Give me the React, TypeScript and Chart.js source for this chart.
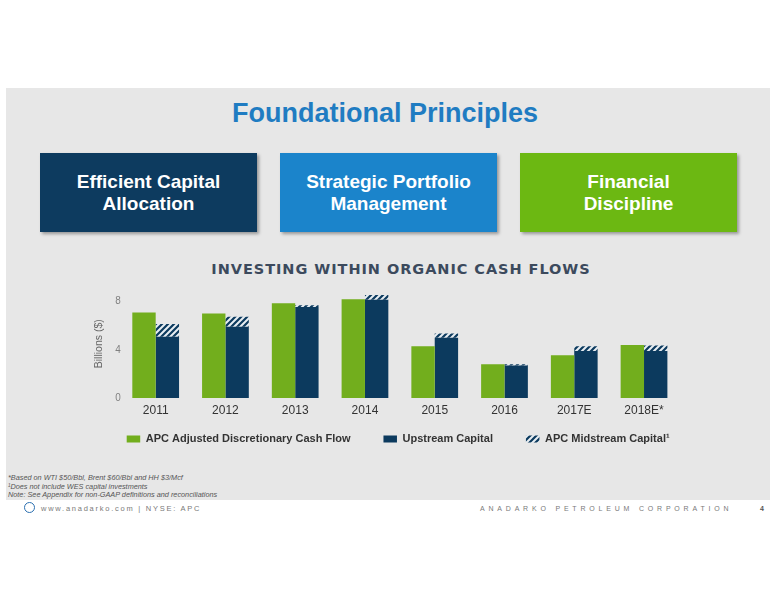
import React, { useEffect, useRef } from "react";
import { Chart, registerables } from "chart.js";

Chart.register(...registerables);

const categories = ["2011", "2012", "2013", "2014", "2015", "2016", "2017E", "2018E*"];
const cashFlow = [7.1, 7.0, 7.85, 8.2, 4.3, 2.8, 3.55, 4.4];
const upstream = [5.08, 5.9, 7.55, 8.15, 5.0, 2.7, 3.9, 3.9];
const midstream = [1.05, 0.85, 0.15, 0.4, 0.35, 0.1, 0.4, 0.45];
const yTicks = [0, 4, 8];
const seriesNames = [
  "APC Adjusted Discretionary Cash Flow",
  "Upstream Capital",
  "APC Midstream Capital¹",
];

const GREEN = "#72ae1d";
const NAVY = "#0c3a5e";
const FONT = "Arial, 'Liberation Sans', sans-serif";

const CANVAS_LEFT = 80;
const CANVAS_TOP = 280;

function makeHatch(): CanvasPattern | string {
  const c = document.createElement("canvas");
  c.width = 6;
  c.height = 6;
  const x = c.getContext("2d");
  if (!x) return NAVY;
  x.fillStyle = "#e8eef3";
  x.fillRect(0, 0, 6, 6);
  x.strokeStyle = NAVY;
  x.lineWidth = 2.2;
  x.beginPath();
  x.moveTo(-1, 7);
  x.lineTo(7, -1);
  x.moveTo(-4, 4);
  x.lineTo(4, -4);
  x.moveTo(2, 10);
  x.lineTo(10, 2);
  x.stroke();
  const p = x.createPattern(c, "repeat");
  return p || NAVY;
}

// legend drawn on the chart canvas from the dataset labels and fills
const legendPlugin = {
  id: "slideLegend",
  afterDraw(chart: any) {
    const ctx = chart.ctx as CanvasRenderingContext2D;
    ctx.save();
    ctx.font = `bold 11px ${FONT}`;
    ctx.textBaseline = "middle";
    ctx.textAlign = "left";
    let x = 126.7 - CANVAS_LEFT;
    const y = 439 - CANVAS_TOP;
    chart.data.datasets.forEach((ds: any) => {
      ctx.fillStyle = ds.backgroundColor;
      ctx.fillRect(x, y - 3.5, 13.5, 7);
      ctx.fillStyle = "#333333";
      ctx.fillText(ds.label, x + 19, y);
      x += 19 + ctx.measureText(ds.label).width + 33;
    });
    ctx.restore();
  },
};

function BarChart() {
  const ref = useRef<HTMLCanvasElement | null>(null);
  useEffect(() => {
    if (!ref.current) return;
    const hatch = makeHatch();
    const chart = new Chart(ref.current, {
      type: "bar",
      data: {
        labels: categories,
        datasets: [
          { label: seriesNames[0], data: cashFlow, backgroundColor: GREEN, stack: "a", borderWidth: 0 },
          { label: seriesNames[1], data: upstream, backgroundColor: NAVY, stack: "b", borderWidth: 0 },
          { label: seriesNames[2], data: midstream, backgroundColor: hatch as any, stack: "b", borderWidth: 0 },
        ],
      },
      plugins: [legendPlugin],
      options: {
        responsive: false,
        animation: false,
        devicePixelRatio: 1,
        layout: { padding: { top: 9.5, right: 21.1, bottom: 32, left: 0 } },
        datasets: { bar: { categoryPercentage: 0.67, barPercentage: 1 } },
        plugins: {
          tooltip: { enabled: false },
          legend: { display: false },
        },
        scales: {
          x: {
            stacked: true,
            grid: { display: false, drawTicks: false },
            border: { display: false },
            ticks: {
              padding: 5,
              color: "#333333",
              font: { family: FONT, size: 12 },
            },
            afterFit: (s: any) => {
              s.height = 20;
            },
          },
          y: {
            stacked: true,
            min: 0,
            max: 9,
            grid: { display: false, drawTicks: false },
            border: { display: false },
            afterBuildTicks: (s: any) => {
              s.ticks = yTicks.map((v) => ({ value: v }));
            },
            ticks: {
              padding: 0,
              color: "#808080",
              font: { family: FONT, size: 10 },
            },
            title: {
              display: true,
              text: "Billions ($)",
              color: "#666666",
              padding: { top: 13, bottom: 0 },
              font: { family: FONT, size: 10.5 },
            },
            afterFit: (s: any) => {
              s.width = 40.8;
            },
          },
        },
      },
    });
    return () => chart.destroy();
  }, []);
  return (
    <canvas
      ref={ref}
      width={620}
      height={170}
      style={{ position: "absolute", left: CANVAS_LEFT, top: CANVAS_TOP, width: 620, height: 170 }}
    />
  );
}

const boxBase: React.CSSProperties = {
  position: "absolute",
  top: 153,
  width: 217,
  height: 79,
  display: "flex",
  alignItems: "center",
  justifyContent: "center",
  textAlign: "center",
  color: "#ffffff",
  fontFamily: FONT,
  fontWeight: "bold",
  fontSize: 19,
  lineHeight: "22px",
  boxShadow: "2px 2px 3px rgba(0,0,0,0.35)",
};

export default function App() {
  return (
    <div
      style={{
        position: "absolute",
        left: 0,
        top: 0,
        width: 776,
        height: 600,
        background: "#ffffff",
        overflow: "hidden",
        fontFamily: FONT,
      }}
    >
      <div style={{ position: "absolute", left: 6, top: 88, width: 764, height: 412, background: "#e7e7e7" }} />
      <div
        style={{
          position: "absolute",
          left: -3,
          width: 776,
          top: 96,
          textAlign: "center",
          color: "#1f7cc2",
          fontWeight: "bold",
          fontSize: 27,
          lineHeight: "34px",
        }}
      >
        Foundational Principles
      </div>
      <div style={{ ...boxBase, left: 40, background: "#0d3b5f" }}>
        Efficient Capital
        <br />
        Allocation
      </div>
      <div style={{ ...boxBase, left: 280, background: "#1b84cb" }}>
        Strategic Portfolio
        <br />
        Management
      </div>
      <div style={{ ...boxBase, left: 520, background: "#6cb812" }}>
        Financial
        <br />
        Discipline
      </div>
      <div
        style={{
          position: "absolute",
          left: 13,
          width: 776,
          top: 260,
          textAlign: "center",
          color: "#3c4a5d",
          fontFamily: "'DejaVu Sans', sans-serif",
          fontWeight: "bold",
          fontSize: 14.5,
          letterSpacing: 0.95,
          lineHeight: "18px",
        }}
      >
        INVESTING WITHIN ORGANIC CASH FLOWS
      </div>
      <BarChart />
      <div
        style={{
          position: "absolute",
          left: 8,
          top: 474,
          color: "#555555",
          fontStyle: "italic",
          fontSize: 7.3,
          lineHeight: "8.5px",
        }}
      >
        <div>*Based on WTI $50/Bbl, Brent $60/Bbl and HH $3/Mcf</div>
        <div>¹Does not include WES capital investments</div>
        <div>Note: See Appendix for non-GAAP definitions and reconciliations</div>
      </div>
      <div
        style={{
          position: "absolute",
          left: 24,
          top: 502,
          width: 9,
          height: 9,
          borderRadius: "50%",
          border: "1.5px solid #2a6fb0",
        }}
      />
      <div
        style={{
          position: "absolute",
          left: 41,
          top: 504,
          color: "#7a7a7a",
          fontSize: 7.5,
          letterSpacing: 1.75,
          lineHeight: "9px",
          whiteSpace: "pre",
        }}
      >
        www.anadarko.com | NYSE: APC
      </div>
      <div
        style={{
          position: "absolute",
          left: 480,
          top: 504,
          color: "#7a7a7a",
          fontSize: 7,
          letterSpacing: 3.8,
          lineHeight: "9px",
          whiteSpace: "pre",
        }}
      >
        ANADARKO PETROLEUM CORPORATION
      </div>
      <div
        style={{
          position: "absolute",
          left: 760,
          top: 504,
          color: "#555555",
          fontSize: 7,
          fontWeight: "bold",
          lineHeight: "9px",
        }}
      >
        4
      </div>
    </div>
  );
}
